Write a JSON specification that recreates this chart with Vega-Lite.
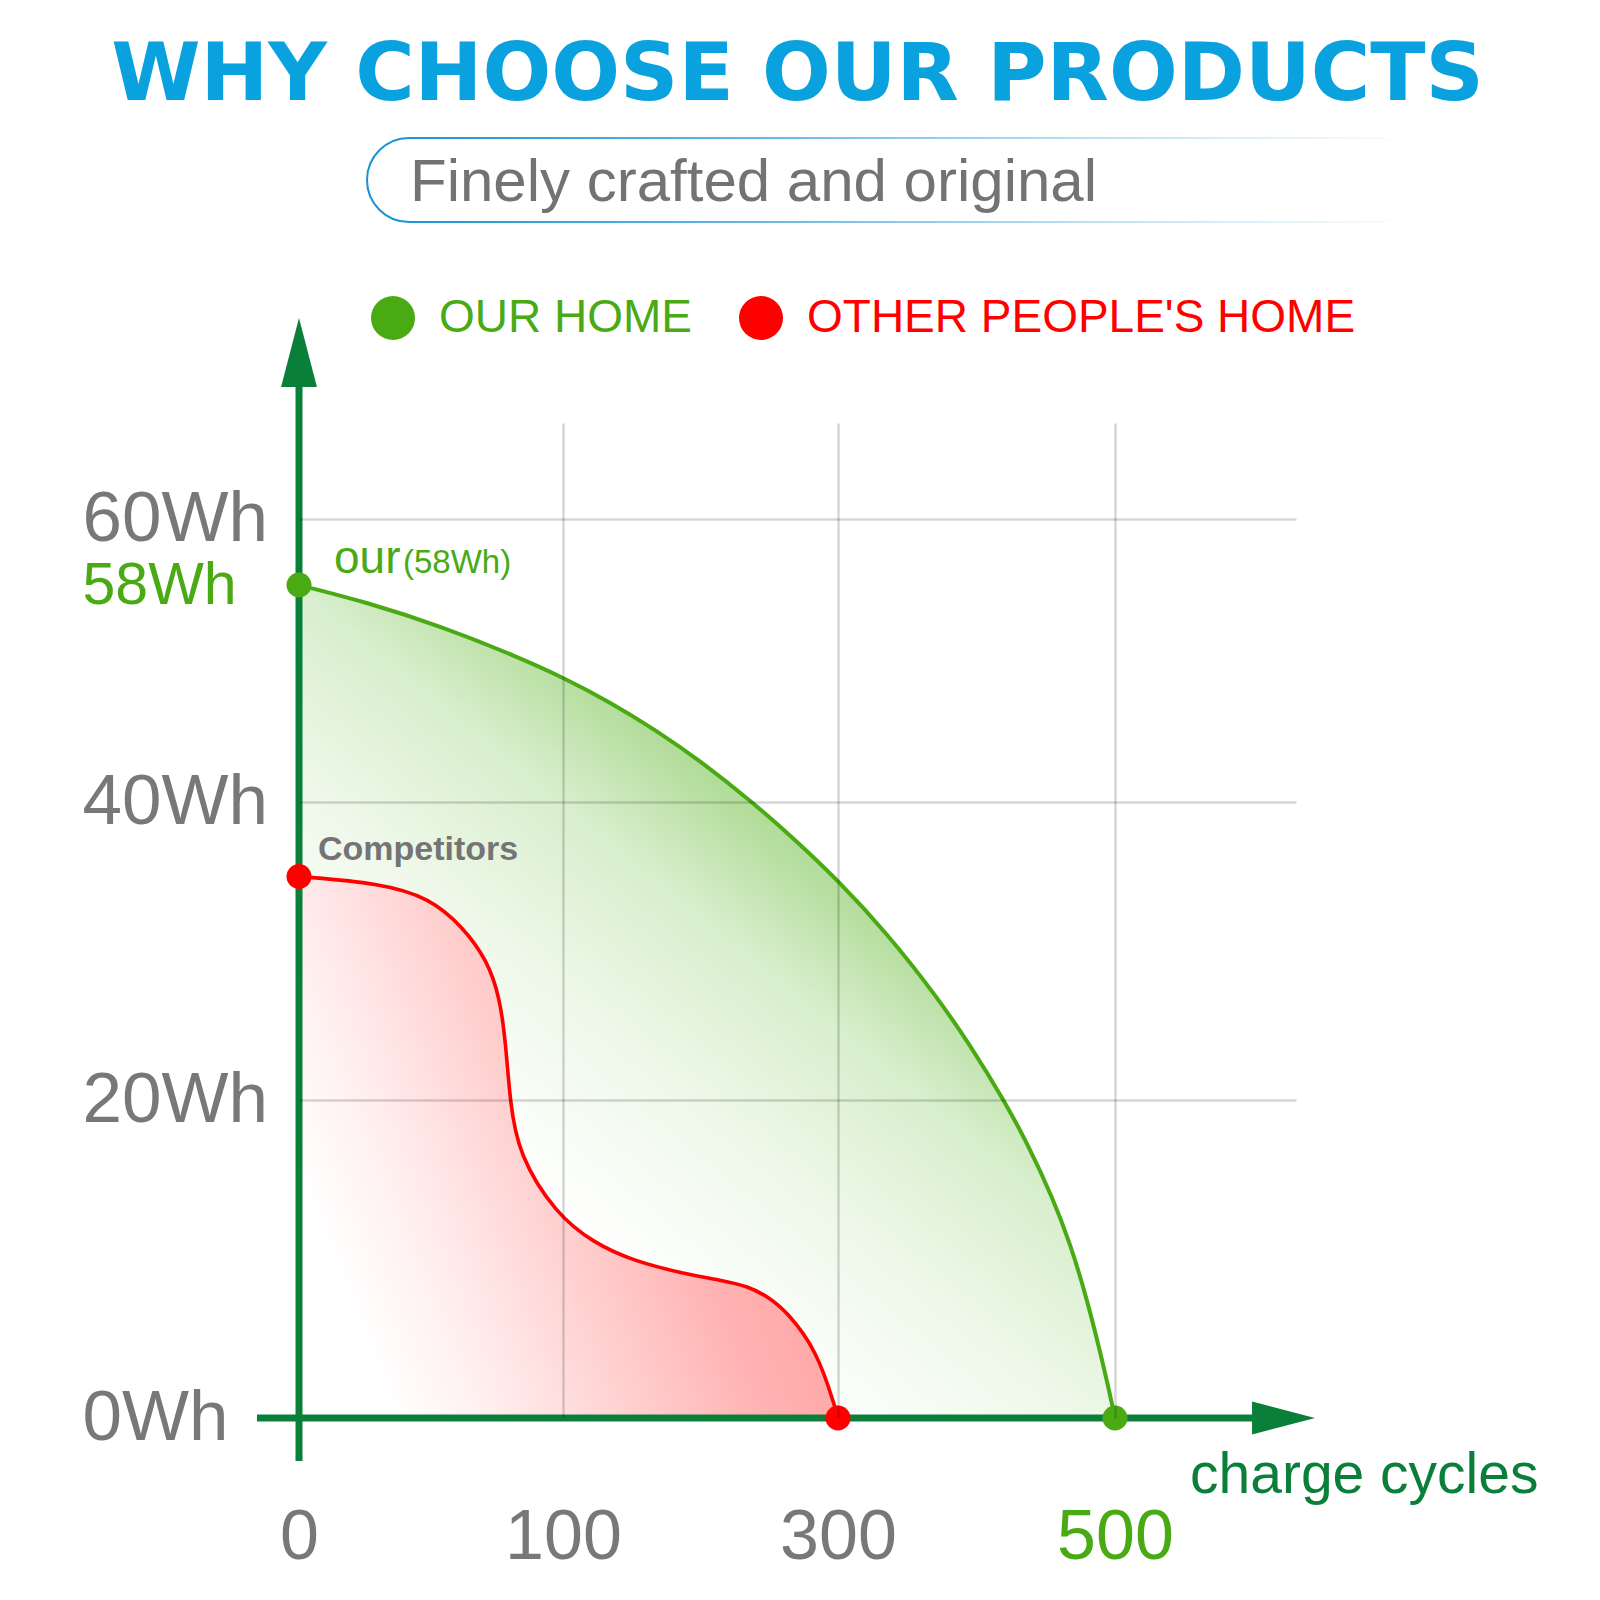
{
  "$schema": "https://vega.github.io/schema/vega-lite/v6.json",
  "width": 997,
  "height": 995,
  "autosize": {"type": "none"},
  "padding": {"left": 299, "top": 423, "right": 304, "bottom": 182},
  "background": "white",
  "config": {"font": "Liberation Sans", "view": {"stroke": null}},
  "title": {
    "text": "WHY CHOOSE OUR PRODUCTS",
    "font": "DejaVu Sans",
    "fontSize": 81,
    "fontWeight": "bold",
    "color": "#0aa1df",
    "anchor": "middle",
    "frame": "group",
    "offset": 20
  },
  "datasets": {
    "curves": [
      {"series": "OUR HOME", "cycles": 0, "wh": 58},
      {"series": "OUR HOME", "cycles": 25.4, "wh": 56.59},
      {"series": "OUR HOME", "cycles": 54.2, "wh": 54.55},
      {"series": "OUR HOME", "cycles": 83.3, "wh": 52.0},
      {"series": "OUR HOME", "cycles": 100, "wh": 50.33},
      {"series": "OUR HOME", "cycles": 134.2, "wh": 48.29},
      {"series": "OUR HOME", "cycles": 167.6, "wh": 45.96},
      {"series": "OUR HOME", "cycles": 199.6, "wh": 43.43},
      {"series": "OUR HOME", "cycles": 236.0, "wh": 40.15},
      {"series": "OUR HOME", "cycles": 268.0, "wh": 37.54},
      {"series": "OUR HOME", "cycles": 300, "wh": 34.74},
      {"series": "OUR HOME", "cycles": 336.1, "wh": 31.12},
      {"series": "OUR HOME", "cycles": 372.2, "wh": 26.83},
      {"series": "OUR HOME", "cycles": 395.3, "wh": 23.69},
      {"series": "OUR HOME", "cycles": 419.1, "wh": 20.11},
      {"series": "OUR HOME", "cycles": 437.2, "wh": 17.19},
      {"series": "OUR HOME", "cycles": 455.2, "wh": 13.81},
      {"series": "OUR HOME", "cycles": 467.5, "wh": 11.0},
      {"series": "OUR HOME", "cycles": 479.8, "wh": 7.5},
      {"series": "OUR HOME", "cycles": 492.8, "wh": 2.91},
      {"series": "OUR HOME", "cycles": 500, "wh": 0},
      {"series": "OTHER PEOPLE'S HOME", "cycles": 0, "wh": 35},
      {"series": "OTHER PEOPLE'S HOME", "cycles": 30.7, "wh": 34.56},
      {"series": "OTHER PEOPLE'S HOME", "cycles": 49.6, "wh": 33.56},
      {"series": "OTHER PEOPLE'S HOME", "cycles": 62.1, "wh": 31.61},
      {"series": "OTHER PEOPLE'S HOME", "cycles": 71.2, "wh": 29.4},
      {"series": "OTHER PEOPLE'S HOME", "cycles": 76.1, "wh": 26.91},
      {"series": "OTHER PEOPLE'S HOME", "cycles": 78.4, "wh": 23.62},
      {"series": "OTHER PEOPLE'S HOME", "cycles": 79.9, "wh": 20},
      {"series": "OTHER PEOPLE'S HOME", "cycles": 83, "wh": 16.6},
      {"series": "OTHER PEOPLE'S HOME", "cycles": 97.3, "wh": 12.83},
      {"series": "OTHER PEOPLE'S HOME", "cycles": 122.5, "wh": 11.01},
      {"series": "OTHER PEOPLE'S HOME", "cycles": 150.9, "wh": 9.87},
      {"series": "OTHER PEOPLE'S HOME", "cycles": 192.4, "wh": 8.99},
      {"series": "OTHER PEOPLE'S HOME", "cycles": 214.2, "wh": 8.68},
      {"series": "OTHER PEOPLE'S HOME", "cycles": 234.5, "wh": 8.3},
      {"series": "OTHER PEOPLE'S HOME", "cycles": 250.5, "wh": 7.55},
      {"series": "OTHER PEOPLE'S HOME", "cycles": 262.2, "wh": 6.73},
      {"series": "OTHER PEOPLE'S HOME", "cycles": 284.7, "wh": 4.28},
      {"series": "OTHER PEOPLE'S HOME", "cycles": 298.5, "wh": 0.5},
      {"series": "OTHER PEOPLE'S HOME", "cycles": 300, "wh": 0}
    ],
    "ends": [
      {"series": "OUR HOME", "cycles": 0, "wh": 58},
      {"series": "OUR HOME", "cycles": 500, "wh": 0},
      {"series": "OTHER PEOPLE'S HOME", "cycles": 0, "wh": 35},
      {"series": "OTHER PEOPLE'S HOME", "cycles": 300, "wh": 0}
    ]
  },
  "layer": [
    {
      "data": {"name": "curves"},
      "transform": [{"filter": {"field": "series", "equal": "OUR HOME"}}],
      "mark": {
        "type": "area",
        "interpolate": "basis",
        "fill": {
          "gradient": "linear", "x1": 0, "y1": 1, "x2": 0.8, "y2": 0,
          "stops": [
            {"offset": 0, "color": "#ffffff"},
            {"offset": 0.3, "color": "#ffffff"},
            {"offset": 0.47, "color": "#eef8e9"},
            {"offset": 0.61, "color": "#d8eecc"},
            {"offset": 0.68, "color": "#bfe2ab"},
            {"offset": 0.74, "color": "#a9d98e"},
            {"offset": 1, "color": "#9bd07e"}
          ]
        }
      },
      "encoding": {
        "x": {
          "field": "cycles",
          "type": "quantitative",
          "scale": {"domain": [0, 100, 300, 500, 630.7], "range": [0, 264, 539, 816, 997], "nice": false, "zero": false},
          "axis": {
            "values": [0, 100, 300, 500],
            "title": "charge cycles",
            "domain": false,
            "ticks": false,
            "tickSize": 0,
            "labelPadding": 119,
            "labelBaseline": "middle",
            "labelFontSize": 70,
            "labelColor": {"condition": {"test": "datum.value == 500", "value": "#4aaa14"}, "value": "#787878"},
            "labelFlush": false,
            "labelOverlap": false,
            "labelBound": false,
            "labelLimit": 400,
            "grid": true,
            "gridColor": "#000000",
            "gridOpacity": {"condition": {"test": "datum.value == 0", "value": 0}, "value": 0.16},
            "gridWidth": 2.5,
            "zindex": 1,
            "titleFontSize": 57,
            "titleFontWeight": "normal",
            "titleColor": "#0a7f3a",
            "titleAlign": "right",
            "titleBaseline": "alphabetic",
            "titleX": 1239,
            "titleY": 74,
            "titleLimit": 600
          }
        },
        "y": {
          "field": "wh",
          "type": "quantitative",
          "scale": {"domain": [0, 20, 40, 58, 60, 62.91], "range": [995, 677, 379, 162, 96, 0], "nice": false, "zero": false},
          "axis": {
            "values": [0, 20, 40, 58, 60],
            "title": null,
            "domain": false,
            "ticks": false,
            "tickSize": 0,
            "labelExpr": "datum.value + 'Wh'",
            "labelAlign": "left",
            "labelBaseline": "middle",
            "labelPadding": 217,
            "labelLimit": 400,
            "labelFontSize": {"condition": {"test": "datum.value == 58", "value": 59}, "value": 71},
            "labelColor": {"condition": {"test": "datum.value == 58", "value": "#4aaa14"}, "value": "#787878"},
            "labelOverlap": false,
            "labelBound": false,
            "labelFlush": false,
            "grid": true,
            "gridColor": "#000000",
            "gridOpacity": {"condition": {"test": "datum.value == 0 || datum.value == 58", "value": 0}, "value": 0.16},
            "gridWidth": 2.5,
            "zindex": 1
          }
        }
      }
    },
    {
      "data": {"name": "curves"},
      "transform": [{"filter": {"field": "series", "equal": "OTHER PEOPLE'S HOME"}}],
      "mark": {
        "type": "area",
        "interpolate": "basis",
        "fill": {
          "gradient": "linear", "x1": 0, "y1": 1, "x2": 1, "y2": 0.6,
          "stops": [
            {"offset": 0, "color": "#ffffff"},
            {"offset": 0.15, "color": "#ffffff"},
            {"offset": 0.3, "color": "#fff0f0"},
            {"offset": 0.4, "color": "#ffe3e3"},
            {"offset": 0.55, "color": "#ffcece"},
            {"offset": 0.75, "color": "#ffb2b2"},
            {"offset": 1, "color": "#ffa0a0"}
          ]
        }
      },
      "encoding": {
        "x": {"field": "cycles", "type": "quantitative", "scale": {"domain": [0, 100, 300, 500, 630.7], "range": [0, 264, 539, 816, 997], "nice": false, "zero": false}},
        "y": {"field": "wh", "type": "quantitative", "scale": {"domain": [0, 20, 40, 58, 60, 62.91], "range": [995, 677, 379, 162, 96, 0], "nice": false, "zero": false}}
      }
    },
    {
      "data": {"name": "curves"},
      "transform": [{"filter": {"field": "series", "equal": "OUR HOME"}}],
      "mark": {"type": "line", "interpolate": "basis", "strokeWidth": 4, "color": "#4aaa14"},
      "encoding": {
        "x": {"field": "cycles", "type": "quantitative"},
        "y": {"field": "wh", "type": "quantitative"}
      }
    },
    {
      "data": {"name": "curves"},
      "transform": [{"filter": {"field": "series", "equal": "OTHER PEOPLE'S HOME"}}],
      "mark": {"type": "line", "interpolate": "basis", "strokeWidth": 3.6, "color": "#ff0000"},
      "encoding": {
        "x": {"field": "cycles", "type": "quantitative"},
        "y": {"field": "wh", "type": "quantitative"}
      }
    },
    {
      "data": {"values": [{}]},
      "mark": {"type": "rule", "color": "#0a7f3a", "strokeWidth": 7, "strokeCap": "butt"},
      "encoding": {
        "x": {"datum": -15.9},
        "x2": {"datum": 599.5},
        "y": {"datum": 0}
      }
    },
    {
      "data": {"values": [{}]},
      "mark": {"type": "rule", "color": "#0a7f3a", "strokeWidth": 7, "strokeCap": "butt"},
      "encoding": {
        "x": {"datum": 0},
        "y": {"datum": -2.7},
        "y2": {"datum": 64.3}
      }
    },
    {
      "data": {"values": [{}]},
      "mark": {"type": "point", "shape": "M0,-1L0.52,1L-0.52,1Z", "size": 4761, "filled": true, "color": "#0a7f3a", "opacity": 1, "strokeWidth": 0},
      "encoding": {
        "x": {"datum": 0},
        "y": {"datum": 65.05}
      }
    },
    {
      "data": {"values": [{}]},
      "mark": {"type": "point", "shape": "M1,0L-1,-0.524L-1,0.524Z", "size": 3969, "filled": true, "color": "#0a7f3a", "opacity": 1, "strokeWidth": 0},
      "encoding": {
        "x": {"datum": 621.7},
        "y": {"datum": 0}
      }
    },
    {
      "data": {"name": "ends"},
      "mark": {"type": "point", "filled": true, "size": 625, "opacity": 1, "strokeWidth": 0},
      "encoding": {
        "x": {"field": "cycles", "type": "quantitative"},
        "y": {"field": "wh", "type": "quantitative"},
        "color": {
          "field": "series",
          "type": "nominal",
          "scale": {"domain": ["OUR HOME", "OTHER PEOPLE'S HOME"], "range": ["#4aaa14", "#ff0000"]},
          "legend": {
            "orient": "none",
            "legendX": 71,
            "legendY": -128,
            "direction": "horizontal",
            "title": null,
            "symbolType": "circle",
            "symbolSize": 1936,
            "symbolStrokeWidth": 0,
            "symbolOpacity": 1,
            "labelFont": "Liberation Sans",
            "labelFontSize": 46,
            "labelOffset": 23,
            "columnPadding": 46,
            "labelLimit": 2000,
            "padding": 0,
            "rowPadding": 0,
            "encode": {"labels": {"update": {"fill": {"scale": "color", "field": "value"}}}}
          }
        }
      }
    },
    {
      "data": {"values": [{}]},
      "mark": {"type": "text", "text": "our", "align": "left", "baseline": "alphabetic", "dx": 35, "dy": -12, "fontSize": 46, "color": "#4aaa14"},
      "encoding": {"x": {"datum": 0}, "y": {"datum": 58}}
    },
    {
      "data": {"values": [{}]},
      "mark": {"type": "text", "text": "(58Wh)", "align": "left", "baseline": "alphabetic", "dx": 104, "dy": -12, "fontSize": 33, "color": "#4aaa14"},
      "encoding": {"x": {"datum": 0}, "y": {"datum": 58}}
    },
    {
      "data": {"values": [{}]},
      "mark": {"type": "text", "text": "Competitors", "align": "left", "baseline": "alphabetic", "dx": 19, "dy": -17, "fontSize": 34, "fontWeight": "bold", "color": "#747474"},
      "encoding": {"x": {"datum": 0}, "y": {"datum": 35}}
    },
    {
      "data": {"values": [{}]},
      "mark": {
        "type": "rect",
        "filled": false,
        "cornerRadius": 42,
        "strokeWidth": 2,
        "stroke": {
          "gradient": "linear", "x1": 0, "y1": 0, "x2": 1, "y2": 0,
          "stops": [
            {"offset": 0, "color": "#1592d2"},
            {"offset": 0.35, "color": "#5fb6e3"},
            {"offset": 0.7, "color": "#bfe2f3"},
            {"offset": 1, "color": "#ffffff"}
          ]
        }
      },
      "encoding": {
        "x": {"datum": 25.76},
        "x2": {"datum": 720.2},
        "y": {"datum": 71.55},
        "y2": {"datum": 69.0}
      }
    },
    {
      "data": {"values": [{}]},
      "mark": {"type": "text", "text": "Finely crafted and original", "align": "left", "baseline": "middle", "dx": 43, "dy": 3, "fontSize": 60, "color": "#737373"},
      "encoding": {"x": {"datum": 25.76}, "y": {"datum": 70.27}}
    }
  ]
}
